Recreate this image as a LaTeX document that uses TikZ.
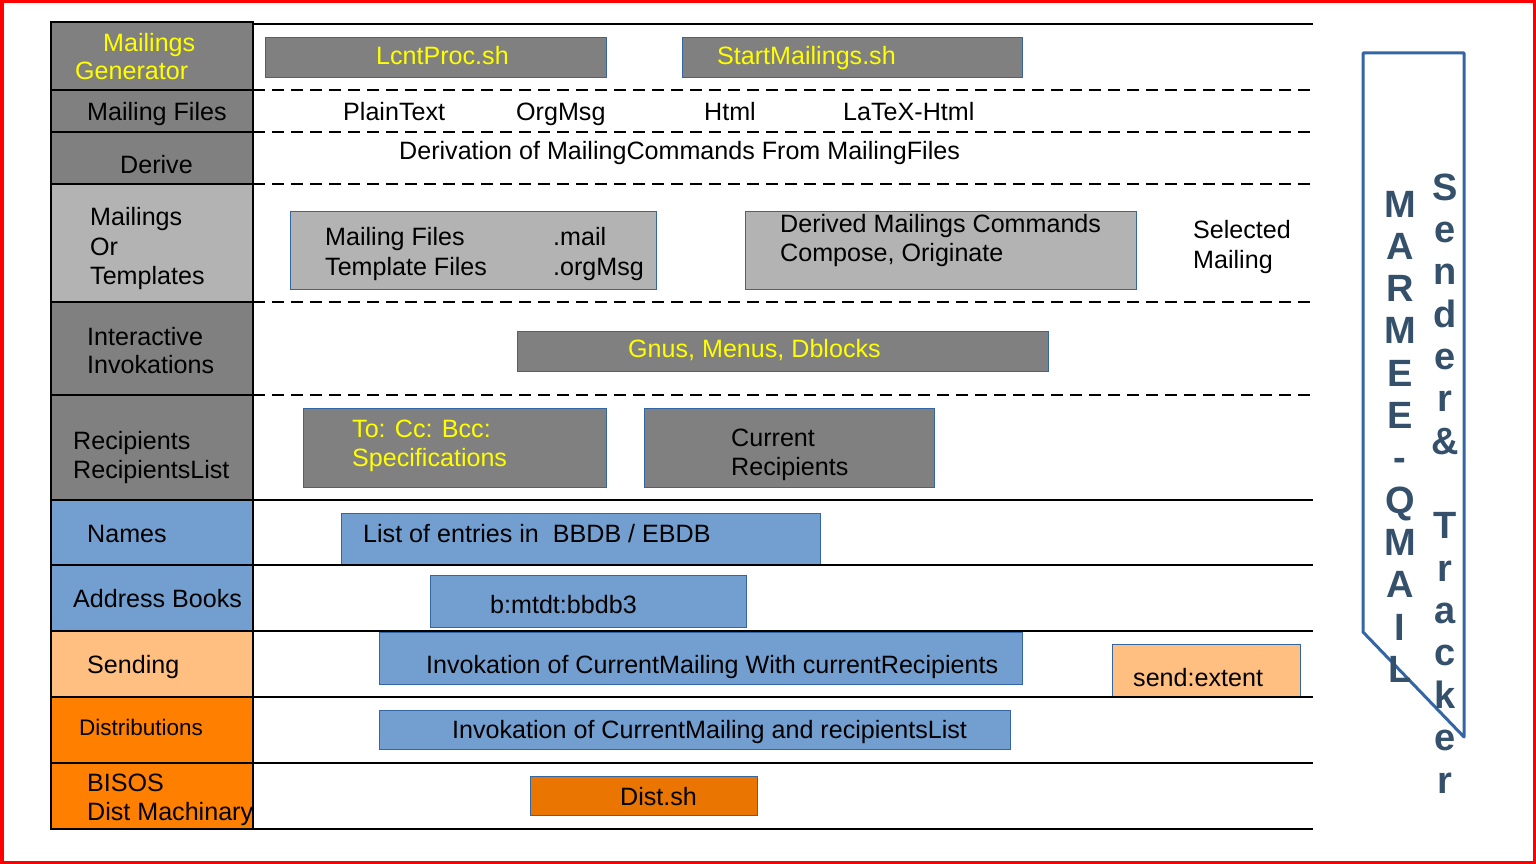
\documentclass[tikz,border=0pt]{standalone}
\usepackage{fontspec}
\setmainfont{Liberation Sans}
\definecolor{cgray}{HTML}{808080}
\definecolor{clgray}{HTML}{B3B3B3}
\definecolor{cblue}{HTML}{729FCF}
\definecolor{clorange}{HTML}{FFBF80}
\definecolor{corange}{HTML}{FF8000}
\definecolor{cdorange}{HTML}{EA7500}
\definecolor{boxblue}{HTML}{3465A4}
\definecolor{yel}{HTML}{FFFF00}
\definecolor{bantext}{HTML}{34506A}
\begin{document}
\begin{tikzpicture}[x=1pt,y=-1pt,
  lbl/.style={anchor=base west, inner sep=0pt, font=\fontsize{25.1}{30}\selectfont},
  slbl/.style={lbl, font=\fontsize{22.5}{27}\selectfont},
  ylbl/.style={lbl, text=yel},
  cell/.style={draw=black, line width=1.2pt},
  boxst/.style={draw=boxblue, line width=0.9pt},
  dline/.style={draw=black, dash pattern=on 12pt off 7pt, line width=1.6pt},
  sline/.style={draw=black, line width=1.6pt},
  bl/.style={anchor=base, inner sep=0pt, font=\fontsize{38}{40}\selectfont\bfseries, text=bantext},
  banner/.style={draw=boxblue, line width=3pt, line join=round}]
\useasboundingbox (0,0) rectangle (1536,864);
% red frame
\draw[red, line width=3.5pt] (1.75,1.75) rectangle (1534.25,862.25);

% left column cells
\path[cell, fill=cgray] (51,22) rectangle (253,90);
\path[cell, fill=cgray] (51,90) rectangle (253,132);
\path[cell, fill=cgray] (51,132) rectangle (253,184);
\path[cell, fill=clgray] (51,184) rectangle (253,302);
\path[cell, fill=cgray] (51,302) rectangle (253,395);
\path[cell, fill=cgray] (51,395) rectangle (253,500);
\path[cell, fill=cblue] (51,500) rectangle (253,565);
\path[cell, fill=cblue] (51,565) rectangle (253,631);
\path[cell, fill=clorange] (51,631) rectangle (253,697);
\path[cell, fill=corange] (51,697) rectangle (253,763);
\path[cell, fill=corange] (51,763) rectangle (253,829);

% left column labels
\node[ylbl] (l1a) at (103,52) {Mailings};
\node[ylbl] (l1b) at (75,80) {Generator};
\node[lbl] (l2) at (87,121) {Mailing Files};
\node[lbl] (l3) at (120,173) {Derive};
\node[lbl] (l4a) at (90,225) {Mailings};
\node[lbl] (l4b) at (90,255) {Or};
\node[lbl] (l4c) at (90,284) {Templates};
\node[lbl] (l5a) at (87,345) {Interactive};
\node[lbl] (l5b) at (87,373) {Invokations};
\node[lbl] (l6a) at (73,449) {Recipients};
\node[lbl] (l6b) at (73,478) {RecipientsList};
\node[lbl] (l7) at (87,542) {Names};
\node[lbl] (l8) at (73,607) {Address Books};
\node[lbl] (l9) at (87,673) {Sending};
\node[slbl] (l10) at (79,735) {Distributions};
\node[lbl] (l11a) at (87,791) {BISOS};
\node[lbl] (l11b) at (87,820) {Dist Machinary};

% boxes
\path[boxst, fill=cgray] (265,37) rectangle (606,77);
\path[boxst, fill=cgray] (682,37) rectangle (1022,77);
\path[boxst, fill=clgray] (290,211) rectangle (656,289);
\path[boxst, fill=clgray] (745,211) rectangle (1136,289);
\path[boxst, fill=cgray] (517,331) rectangle (1048,371);
\path[boxst, fill=cgray] (303,408) rectangle (606,487);
\path[boxst, fill=cgray] (644,408) rectangle (934,487);
\path[boxst, fill=cblue] (341,513) rectangle (820,564);
\path[boxst, fill=cblue] (430,575) rectangle (746,627);
\path[boxst, fill=cblue] (379,632) rectangle (1022,684);
\path[boxst, fill=clorange] (1112,644) rectangle (1300,697);
\path[boxst, fill=cblue] (379,710) rectangle (1010,749);
\path[boxst, fill=cdorange] (530,776) rectangle (757,815);

% lines
\draw[sline] (253,24) -- (1313,24);
\foreach \yy in {90,132,184,302,395} \draw[dline] (253,\yy) -- (1310,\yy);
\foreach \yy in {500,565,631,697,763,829} \draw[sline] (253,\yy) -- (1313,\yy);

% texts
\node[ylbl] (t1) at (376,65) {LcntProc.sh};
\node[ylbl] (t2) at (717,65) {StartMailings.sh};
\node[lbl] (t3) at (343,121) {PlainText};
\node[lbl] (t4) at (516,121) {OrgMsg};
\node[lbl] (t5) at (704,121) {Html};
\node[lbl] (t6) at (843,121) {LaTeX-Html};
\node[lbl] (t7) at (399,160) {Derivation of MailingCommands From MailingFiles};
\node[lbl] (t8a) at (325,245) {Mailing Files};
\node[lbl] (t8b) at (325,275) {Template Files};
\node[lbl] (t8c) at (553,245) {.mail};
\node[lbl] (t8d) at (553,275) {.orgMsg};
\node[lbl] (t9a) at (780,232) {Derived Mailings Commands};
\node[lbl] (t9b) at (780,261) {Compose, Originate};
\node[lbl] (t10a) at (1193,238) {Selected};
\node[lbl] (t10b) at (1193,268) {Mailing};
\node[ylbl] (t11) at (628,357) {Gnus, Menus, Dblocks};
\node[ylbl] (t12a) at (352,437) {To: Cc: Bcc:};
\node[ylbl] (t12b) at (352,466) {Specifications};
\node[lbl] (t13a) at (731,446) {Current};
\node[lbl] (t13b) at (731,475) {Recipients};
\node[lbl] (t14) at (363,542) {List of entries in\ \ BBDB / EBDB};
\node[lbl] (t15) at (490,613) {b:mtdt:bbdb3};
\node[lbl] (t16) at (426,673) {Invokation of CurrentMailing With currentRecipients};
\node[lbl] (t17) at (1133,686) {send:extent};
\node[lbl] (t18) at (452,738) {Invokation of CurrentMailing and recipientsList};
\node[lbl] (t19) at (620,805) {Dist.sh};

% banner
\draw[banner] (1363,632) -- (1363,53) -- (1464,53) -- (1464,737) -- cycle;
\foreach \c [count=\i from 0] in {M,A,R,M,E,E,-,Q,M,A,I,L}
  \node[bl] (m\i) at (1400,217+42.3*\i) {\c};
\foreach \c/\i in {S/0,e/1,n/2,d/3,e/4,r/5,\&/6,T/8,r/9,a/10,c/11,k/12,e/13,r/14}
  \node[bl] (s\i) at (1445,200+42.36*\i) {\c};
\end{tikzpicture}
\end{document}
